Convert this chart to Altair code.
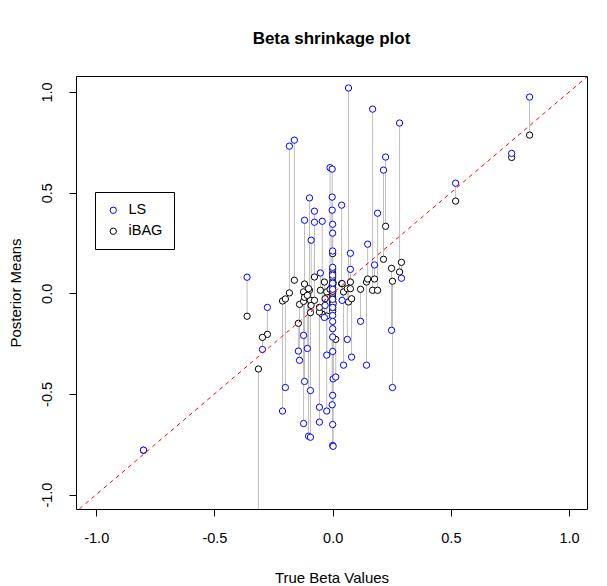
import altair as alt
import pandas as pd

# True beta, LS posterior mean, iBAG posterior mean
true_beta = [
    -0.800, -0.362, -0.314, -0.276, -0.297, -0.212, -0.200, -0.183, -0.162, -0.145,
    -0.140, -0.123, -0.119, -0.123, -0.119, -0.098, -0.102, -0.094, -0.094, -0.091,
    -0.077, -0.077, -0.107, -0.044, -0.052, -0.056, -0.056, -0.025, -0.025, 0.038,
    0.067, 0.046, 0.062, 0.080, 0.075, 0.075, 0.040, -0.035, -0.032, 0.118,
    0.143, 0.148, 0.169, 0.177, 0.190, 0.215, 0.224, 0.249, 0.253, 0.283,
    0.291, 0.520, 0.757, 0.833,
    -0.011, -0.002, -0.002, -0.002, 0.000, 0.000, 0.000, 0.000, 0.000, 0.000,
    0.000, 0.000, 0.000, 0.000, 0.000, 0.000, 0.000, 0.000, 0.002, 0.013,
    0.000, -0.002, 0.000, 0.000, 0.002,
]
ls_mean = [
    -0.779, 0.080, -1.300, -0.070, -0.279, -0.585, -0.468, 0.731, 0.761, -0.287,
    -0.333, -0.209, 0.363, -0.647, -0.438, 0.474, -0.710, -0.715, -0.483, 0.264,
    0.408, 0.353, -0.274, 0.358, 0.101, -0.566, -0.640, -0.585, -0.307, 0.438,
    1.020, -0.357, -0.229, -0.317, 0.199, 0.119, -0.035, -0.120, -0.060, -0.139,
    -0.357, 0.244, 0.915, 0.141, 0.398, 0.612, 0.677, -0.184, -0.468, 0.846,
    0.075, 0.547, 0.695, 0.975,
    0.624, 0.617, 0.478, 0.413, 0.343, 0.299, 0.210, 0.129, 0.090, 0.050,
    0.020, -0.030, -0.070, -0.110, -0.140, -0.176, -0.217, -0.289, -0.425, -0.416,
    -0.507, -0.554, -0.652, -0.756, -0.760,
]
ibag_mean = [
    -0.780, -0.114, -0.376, -0.204, -0.219, -0.038, -0.028, 0.002, 0.065, -0.149,
    -0.055, -0.040, 0.046, 0.007, -0.020, 0.015, 0.023, -0.035, -0.096, -0.060,
    0.081, -0.035, -0.010, -0.104, 0.015, -0.093, -0.070, -0.113, 0.007, 0.048,
    -0.043, 0.007, 0.023, -0.027, 0.056, 0.023, 0.048, 0.056, -0.027, 0.020,
    0.056, 0.071, 0.015, 0.071, 0.015, 0.169, 0.333, 0.124, 0.060, 0.106,
    0.154, 0.458, 0.675, 0.786,
    0.020, -0.010, 0.040, -0.030, 0.060, -0.050, 0.197, 0.100, 0.120, 0.080,
    -0.020, 0.030, -0.060, -0.080, 0.010, -0.040, 0.000, -0.090, 0.050, -0.229,
    -0.070, 0.030, -0.030, 0.010, -0.050,
]
series_names = ["LS", "iBAG"]
series_colors = ["#0000FF", "#000000"]
ref_line = [-1.2, 1.2]
x_ticks = [-1.0, -0.5, 0.0, 0.5, 1.0]
y_ticks = [-1.0, -0.5, 0.0, 0.5, 1.0]

FONT = "Liberation Sans"
x_dom = [-1.0855, 1.0757]
y_dom = [-1.0716, 1.0796]

wide = pd.DataFrame({"beta": true_beta, "ls": ls_mean, "ibag": ibag_mean})
long = pd.concat([
    pd.DataFrame({"beta": true_beta, "value": ibag_mean, "series": "iBAG"}),
    pd.DataFrame({"beta": true_beta, "value": ls_mean, "series": "LS"}),
], ignore_index=True)
ref = pd.DataFrame({"beta": ref_line, "value": ref_line})

label_expr = "datum.value < 0 ? '-' + format(-datum.value, '.1f') : format(datum.value, '.1f')"

xs = alt.Scale(domain=x_dom, nice=False, zero=False)
ys = alt.Scale(domain=y_dom, nice=False, zero=False)

x_axis = alt.Axis(values=x_ticks, labelExpr=label_expr, domain=False, grid=False,
                  ticks=True, tickSize=7, tickWidth=1, tickColor="black",
                  labelFont=FONT, labelFontSize=14.5,
                  labelColor="black", labelPadding=15, titleFont=FONT, titleFontSize=15,
                  titleFontWeight="normal", titleColor="black", titleY=68,
                  titleBaseline="middle")
y_axis = alt.Axis(values=y_ticks, labelExpr=label_expr, domain=False, grid=False,
                  ticks=True, tickSize=7, tickWidth=1, tickColor="black",
                  labelFont=FONT, labelFontSize=14.5,
                  labelColor="black", labelAngle=270, labelAlign="center",
                  labelBaseline="bottom", labelPadding=15, titleFont=FONT,
                  titleFontSize=15, titleFontWeight="normal", titleColor="black",
                  titleX=-61, titleBaseline="middle")

segs = alt.Chart(wide).mark_rule(color="#BEBEBE", strokeWidth=1, clip=True).encode(
    x=alt.X("beta:Q", scale=xs, axis=x_axis, title="True Beta Values"),
    y=alt.Y("ls:Q", scale=ys, axis=y_axis, title="Posterior Means"),
    y2="ibag:Q",
)

pts = alt.Chart(long).mark_point(shape="circle", filled=False, fill="white",
                                 fillOpacity=1, size=40, strokeWidth=1, opacity=1,
                                 clip=True).encode(
    x=alt.X("beta:Q", scale=xs),
    y=alt.Y("value:Q", scale=ys),
    color=alt.Color("series:N",
                    scale=alt.Scale(domain=series_names, range=series_colors),
                    legend=alt.Legend(title=None, orient="none", legendX=19, legendY=116,
                                      strokeColor="black", padding=11, fillColor="white",
                                      symbolType="circle", symbolSize=40,
                                      symbolStrokeWidth=1, symbolFillColor="white",
                                      labelFont=FONT, labelFontSize=14.5, labelColor="black",
                                      labelOffset=8, rowPadding=6, cornerRadius=0)),
)

line = alt.Chart(ref).mark_line(color="#FF0000", strokeWidth=1, strokeDash=[4, 4],
                                clip=True).encode(
    x=alt.X("beta:Q", scale=xs),
    y=alt.Y("value:Q", scale=ys),
)

chart = alt.layer(segs, pts, line).properties(
    width=511, height=433,
    background="white",
    title=alt.TitleParams("Beta shrinkage plot", font=FONT, fontSize=17,
                          fontWeight="bold", anchor="middle", color="black", offset=28),
    autosize=alt.AutoSizeParams(type="none"),
    padding={"left": 68, "top": 68, "right": 12, "bottom": 75},
).configure_view(stroke="black", strokeWidth=1)

chart.save("out.html", embed_options={"renderer": "svg", "actions": False})
